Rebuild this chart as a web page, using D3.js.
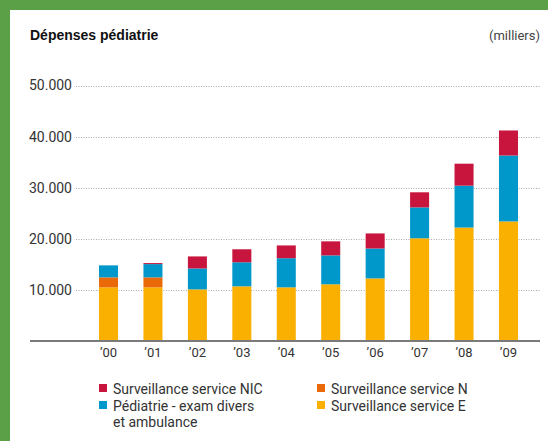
<!DOCTYPE html>
<html>
<head>
<meta charset="utf-8">
<script src="https://cdn.jsdelivr.net/npm/d3@7"></script>
<style>
  body { margin: 0; background: #fff; }
  svg { display: block; font-family: Roboto, "Liberation Sans", sans-serif; }
</style>
</head>
<body>
<svg id="chart" width="548" height="441"></svg>
<script>
"use strict";

var years = ["’00", "’01", "’02", "’03", "’04", "’05", "’06", "’07", "’08", "’09"];
var survE = [10500, 10500, 10100, 10700, 10500, 11100, 12250, 20100, 22200, 23400];
var survN = [1950, 1950, 0, 0, 0, 0, 0, 0, 0, 0];
var pediatrie = [2350, 2600, 4100, 4700, 5700, 5650, 5850, 6050, 8200, 12900];
var survNIC = [0, 200, 2350, 2550, 2500, 2750, 2950, 2950, 4300, 4900];
var yTicks = [10000, 20000, 30000, 40000, 50000];

var seriesKeys = ["E", "N", "P", "NIC"];
var colors = { E: "#f9b000", N: "#ea6a0a", P: "#0097ca", NIC: "#c8153d" };

var legendItems = [
  { key: "NIC", lines: ["Surveillance service NIC"], col: 0, row: 0 },
  { key: "P", lines: ["Pédiatrie - exam divers", "et ambulance"], col: 0, row: 1 },
  { key: "N", lines: ["Surveillance service N"], col: 1, row: 0 },
  { key: "E", lines: ["Surveillance service E"], col: 1, row: 1 }
];

var rows = years.map(function (y, i) {
  return { year: y, E: survE[i], N: survN[i], P: pediatrie[i], NIC: survNIC[i] };
});

var svg = d3.select("#chart");

// green frame top + left
svg.append("rect").attr("x", 0).attr("y", 0).attr("width", 548).attr("height", 10).attr("fill", "#5ba047");
svg.append("rect").attr("x", 0).attr("y", 0).attr("width", 10).attr("height", 441).attr("fill", "#5ba047");

// titles
svg.append("text")
  .attr("x", 30).attr("y", 40)
  .attr("font-size", 14).attr("font-weight", "bold").attr("fill", "#111")
  .attr("font-family", "'Liberation Sans', Arial, sans-serif")
  .text("Dépenses pédiatrie");

svg.append("text")
  .attr("x", 540).attr("y", 40)
  .attr("text-anchor", "end")
  .attr("font-size", 13).attr("fill", "#444")
  .text("(milliers)");

var x = d3.scaleBand()
  .domain(years)
  .range([86.3, 530.7])
  .paddingInner(0.572)
  .paddingOuter(0.286);

var y = d3.scaleLinear().domain([0, 50000]).range([341, 85.5]);

// grid lines
var grid = svg.append("g").attr("class", "grid");
grid.selectAll("line")
  .data(yTicks)
  .enter()
  .append("line")
  .attr("x1", 76).attr("x2", 541)
  .attr("y1", function (d) { return Math.round(y(d)) + 0.5; })
  .attr("y2", function (d) { return Math.round(y(d)) + 0.5; })
  .attr("stroke", "#a8a8a8")
  .attr("stroke-dasharray", "1,1.5");

// y tick labels
var fmt = function (d) { return d3.format(",")(d).replace(/,/g, "."); };
svg.append("g").selectAll("text")
  .data(yTicks)
  .enter()
  .append("text")
  .attr("x", 72)
  .attr("y", function (d) { return y(d); })
  .attr("dy", "0.35em")
  .attr("text-anchor", "end")
  .attr("font-size", 14)
  .attr("fill", "#333")
  .text(fmt);

// stacked bars
var stacked = d3.stack().keys(seriesKeys)(rows);

svg.append("g").selectAll("g")
  .data(stacked)
  .enter()
  .append("g")
  .attr("fill", function (d) { return colors[d.key]; })
  .selectAll("rect")
  .data(function (d) { return d; })
  .enter()
  .append("rect")
  .attr("x", function (d) { return x(d.data.year); })
  .attr("width", x.bandwidth())
  .attr("y", function (d) { return y(d[1]); })
  .attr("height", function (d) { return y(d[0]) - y(d[1]); });

// baseline
svg.append("line")
  .attr("x1", 30).attr("x2", 540)
  .attr("y1", 341).attr("y2", 341)
  .attr("stroke", "#7a7a7a")
  .attr("stroke-width", 2);

// x axis labels
var xAxis = svg.append("g")
  .attr("transform", "translate(0,342)")
  .call(d3.axisBottom(x).tickSize(0).tickPadding(6));
xAxis.select(".domain").remove();
xAxis.selectAll("text")
  .attr("font-size", 13)
  .attr("font-family", "Roboto, 'Liberation Sans', sans-serif")
  .attr("fill", "#333");

// legend
var legend = svg.append("g");
var lg = legend.selectAll("g")
  .data(legendItems)
  .enter()
  .append("g")
  .attr("transform", function (d) {
    return "translate(" + (d.col === 0 ? 99 : 317) + "," + (384 + d.row * 17) + ")";
  });

lg.append("rect")
  .attr("width", 8).attr("height", 8)
  .attr("fill", function (d) { return colors[d.key]; });

lg.append("text")
  .attr("x", 14)
  .attr("y", 10)
  .attr("font-size", 14)
  .attr("fill", "#333")
  .selectAll("tspan")
  .data(function (d) { return d.lines; })
  .enter()
  .append("tspan")
  .attr("x", 14)
  .attr("dy", function (d, i) { return i === 0 ? 0 : 16; })
  .text(function (d) { return d; });
</script>
</body>
</html>
